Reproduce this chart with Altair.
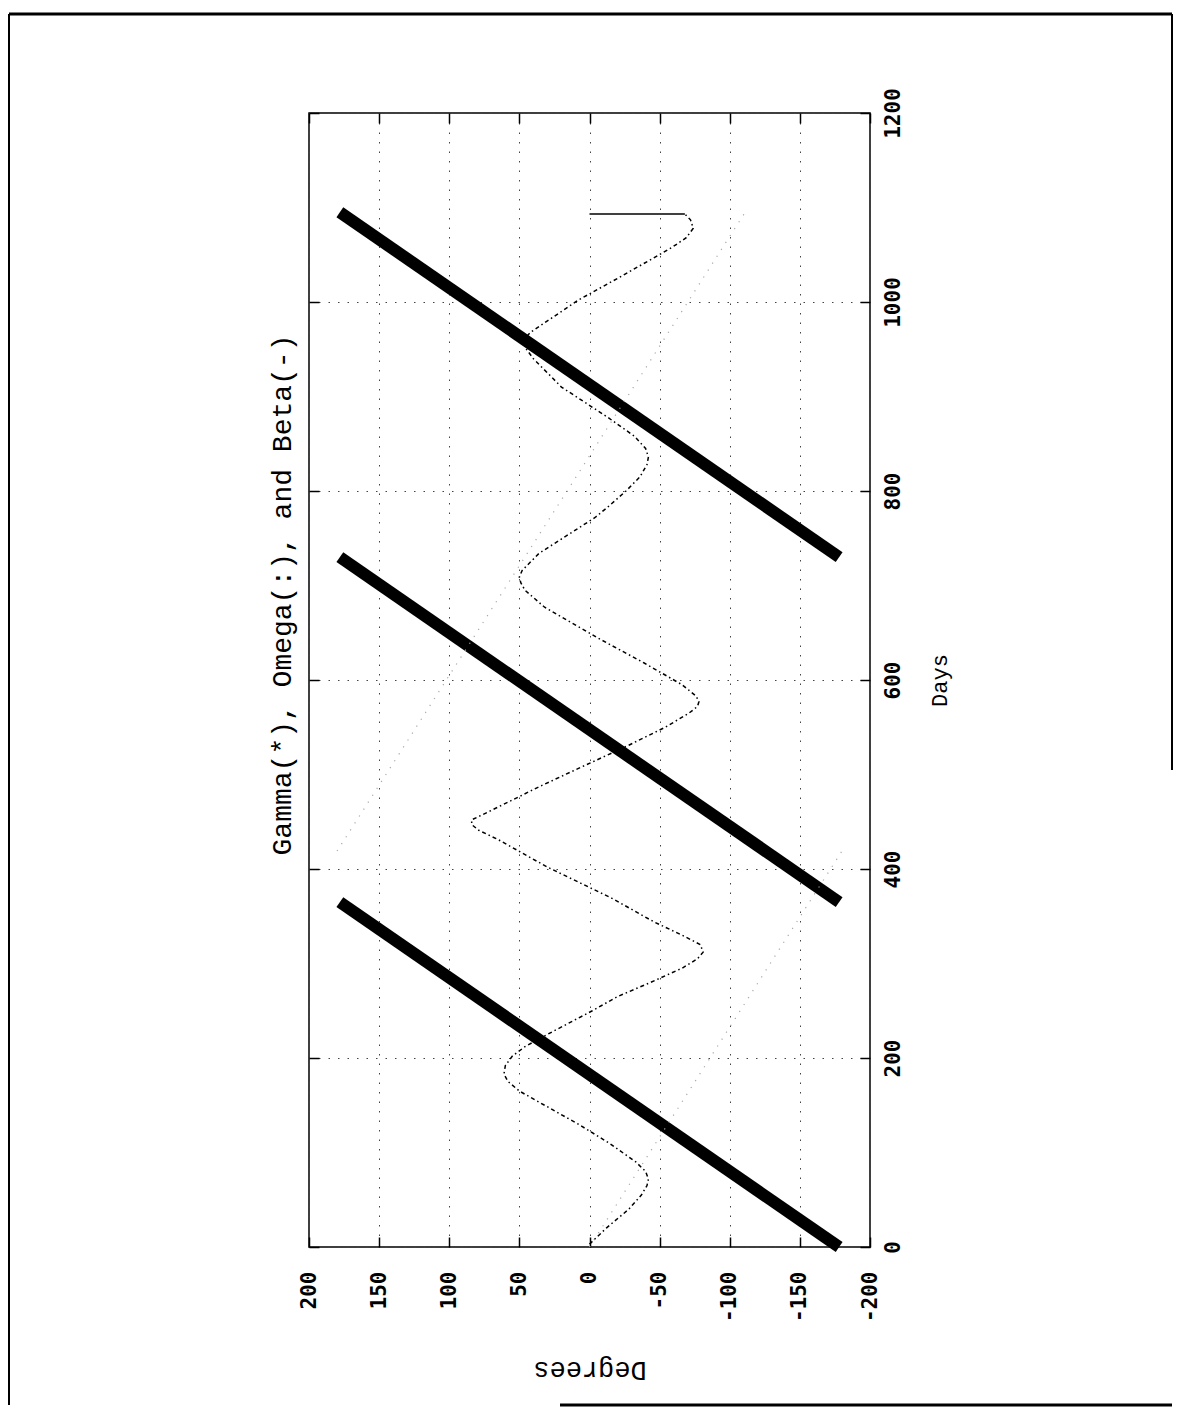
import altair as alt
import pandas as pd

# ---- data ----
deg_ticks = [-200, -150, -100, -50, 0, 50, 100, 150, 200]
day_ticks = [0, 200, 400, 600, 800, 1000, 1200]

gamma_seg = [1, 1, 2, 2, 3, 3]
gamma_days = [0, 365, 365, 730, 730, 1095]
gamma_deg = [-178, 178, -178, 178, -178, 178]

omega_seg = [1, 1, 2, 2]
omega_days = [0, 419, 419, 1095]
omega_deg = [0, -180, 180, -111]

beta_days = [3, 20, 40, 55, 65, 72, 80, 90, 110, 130,
             150, 165, 175, 183, 192, 202, 212, 225, 250, 265,
             279, 295, 305, 312, 320, 330, 344, 369, 402, 431,
             441, 447, 452, 462, 487, 505, 518, 531, 550, 565,
             572, 577, 583, 595, 618, 642, 677, 695, 703, 709,
             716, 734, 772, 783, 800, 815, 828, 836, 845, 858,
             878, 910, 940, 952, 960, 968, 980, 1002, 1025, 1046,
             1058, 1068, 1078, 1087, 1093]
beta_deg = [0, -12, -28, -37, -41, -42, -40, -33, -14, 8,
            32, 50, 58, 61, 60, 55, 46, 30, -2, -20,
            -42, -66, -77, -81, -79, -66, -46, -16, 30, 65,
            79, 84, 84, 70, 36, 10, -9, -28, -54, -71,
            -77, -78, -76, -66, -39, -9, 32, 46, 49, 50,
            48, 36, -4, -13, -26, -36, -41, -42, -40, -32,
            -13, 20, 40, 46, 47, 42, 30, 8, -20, -45,
            -59, -69, -74, -72, -68]

tail_days = [1093, 1093]
tail_deg = [-68, 0]

title_text = "Gamma(*), Omega(:), and Beta(-)"

gamma_df = pd.DataFrame({"seg": gamma_seg, "days": gamma_days, "deg": gamma_deg})
omega_df = pd.DataFrame({"seg": omega_seg, "days": omega_days, "deg": omega_deg})
beta_df = pd.DataFrame({"days": beta_days, "deg": beta_deg})
tail_df = pd.DataFrame({"days": tail_days, "deg": tail_deg})

W, H = 561, 1134
xscale = alt.Scale(domain=[-200, 200], reverse=True, nice=False, zero=False)
yscale = alt.Scale(domain=[0, 1200], nice=False, zero=False)

num_font = "DejaVu Sans Mono"

x_axis_main = alt.Axis(
    orient="bottom", values=deg_ticks, labelExpr="datum.value + ''",
    labelAngle=270, labelAlign="right", labelBaseline="middle",
    labelFont=num_font, labelFontWeight="bold", labelFontSize=21, labelColor="black",
    labelPadding=24, tickSize=10, tickColor="black", tickWidth=1.5, offset=-10,
    domain=False, grid=True, gridColor="#444444", gridDash=[1.5, 8], gridWidth=1,
    title="Degrees", titleAngle=180, titleBaseline="bottom", titleFont="Liberation Mono",
    titleFontSize=27, titleFontWeight="normal", titleColor="black", titlePadding=34,
    labelOverlap=False,
)
y_axis_main = alt.Axis(
    orient="right", values=day_ticks, labelExpr="datum.value + ''",
    labelAngle=270, labelAlign="center", labelBaseline="top",
    labelFont=num_font, labelFontWeight="bold", labelFontSize=21, labelColor="black",
    labelPadding=12, tickSize=10, tickColor="black", tickWidth=1.5, offset=-10,
    domain=False, grid=True, gridColor="#444444", gridDash=[1.5, 8], gridWidth=1,
    title="Days", titleAngle=270, titleBaseline="top", titleFont="Liberation Mono",
    titleFontSize=22, titleFontWeight="normal", titleColor="black", titlePadding=26,
    labelOverlap=False,
)
x_axis_top = alt.Axis(orient="top", values=deg_ticks, labels=False, tickSize=10,
                      tickColor="black", tickWidth=1.5, offset=-10, domain=False,
                      grid=False, title=None)
y_axis_left = alt.Axis(orient="left", values=day_ticks, labels=False, tickSize=10,
                       tickColor="black", tickWidth=1.5, offset=-10, domain=False,
                       grid=False, title=None)

gamma = alt.Chart(gamma_df).mark_line(color="black", strokeWidth=12, strokeCap="butt").encode(
    x=alt.X("deg:Q", scale=xscale, axis=x_axis_main),
    y=alt.Y("days:Q", scale=yscale, axis=y_axis_main),
    detail="seg:N",
    order="days:Q",
)

omega = alt.Chart(omega_df).mark_line(color="#a8a8a8", strokeWidth=1.2, strokeDash=[1.2, 7]).encode(
    x=alt.X("deg:Q", scale=xscale, axis=x_axis_top),
    y=alt.Y("days:Q", scale=yscale, axis=y_axis_left),
    detail="seg:N",
    order="days:Q",
)

beta = alt.Chart(beta_df).mark_line(color="black", strokeWidth=1.5, strokeDash=[4, 3, 1.5, 3]).encode(
    x=alt.X("deg:Q", scale=xscale, axis=None),
    y=alt.Y("days:Q", scale=yscale, axis=None),
    order="days:Q",
)

tail = alt.Chart(tail_df).mark_line(color="black", strokeWidth=1.5).encode(
    x=alt.X("deg:Q", scale=xscale, axis=None),
    y=alt.Y("days:Q", scale=yscale, axis=None),
)

one = alt.Data(values=[{}])
title_mark = alt.Chart(one).mark_text(
    angle=270, align="center", baseline="middle", font="Liberation Mono",
    fontSize=28, color="black", text=title_text,
).encode(x=alt.value(-26), y=alt.value(482))

frame_left = alt.Chart(one).mark_rule(color="black", strokeWidth=2).encode(
    x=alt.value(-300), y=alt.value(-99), y2=alt.value(1292))
frame_top = alt.Chart(one).mark_rule(color="black", strokeWidth=3).encode(
    x=alt.value(-300), x2=alt.value(863), y=alt.value(-99))
frame_right = alt.Chart(one).mark_rule(color="black", strokeWidth=2).encode(
    x=alt.value(863), y=alt.value(-99), y2=alt.value(657))
frame_bottom = alt.Chart(one).mark_rule(color="black", strokeWidth=3).encode(
    x=alt.value(251), x2=alt.value(863), y=alt.value(1292))

chart = alt.layer(
    gamma, omega, beta, tail, title_mark, frame_left, frame_top, frame_right, frame_bottom
).resolve_axis(x="independent", y="independent").properties(
    width=W, height=H,
    autosize=alt.AutoSizeParams(type="none"),
    padding={"left": 301, "top": 105, "right": 304, "bottom": 163},
    background="white",
).configure_view(stroke="black", strokeWidth=1.5)

chart.save("out.html", embed_options={"renderer": "svg", "actions": False})
